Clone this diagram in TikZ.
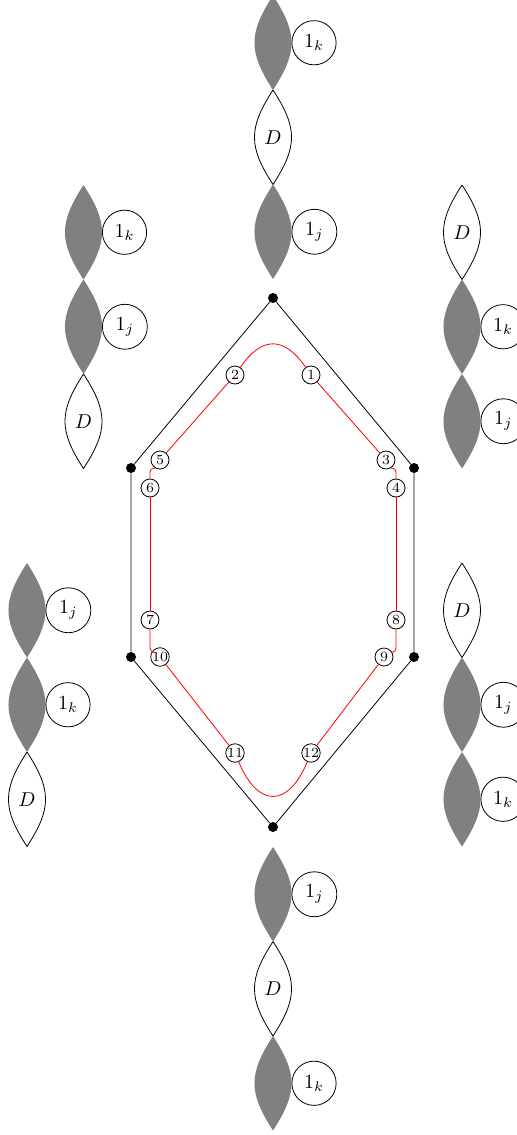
\documentclass[tikz,border=0pt]{standalone}
\usepackage{amsmath,amssymb}
\usepackage{tikz}
\usetikzlibrary{positioning}
\usepackage{xcolor}
% grey lens with its 1_x tag: x, top, subscript, name
\newcommand{\glens}[4]{%
  \fill[gray, shift={(#1,#2)}] (0,0) .. controls (24.7,38) and (24.7,56.5) .. (0,94.5)
    .. controls (-24.7,56.5) and (-24.7,38) .. (0,0);
  \node[unit] (#4) at (#1+18.5,#2+47.25) {$1_#3$};}
% open lens with D inside: x, top, name
\newcommand{\dlens}[3]{%
  \draw[shift={(#1,#2)}] (0,0) .. controls (24.7,38) and (24.7,56.5) .. (0,94.5)
    .. controls (-24.7,56.5) and (-24.7,38) .. (0,0);
  \node (#3) at (#1,#2+47.25) {$D$};}

\begin{document}
\begin{tikzpicture}[x=0.5pt, y=-0.5pt]
\tikzset{dot/.style={circle, fill, inner sep=0pt, minimum size=5pt}}
\tikzset{tag/.style={circle, draw, inner sep=0pt, minimum size=9pt, font=\scriptsize}}
\tikzset{unit/.style={circle, draw, anchor=west}}
\tikzset{loop/.style={red}}
\useasboundingbox (0,0) rectangle (517,1135);

% strands round the hexagon
\glens{273}{-4.5}{k}{tk} \dlens{273}{90}{td} \glens{273}{184.5}{j}{tj}
\glens{83.5}{185}{k}{ulk} \glens{83.5}{279.5}{j}{ulj} \dlens{83.5}{374}{uld}
\dlens{462}{185}{urd} \glens{462}{279.5}{k}{urk} \glens{462}{374}{j}{urj}
\glens{27}{563}{j}{llj} \glens{27}{657.5}{k}{llk} \dlens{27}{752}{lld}
\dlens{462}{563}{lrd} \glens{462}{657.5}{j}{lrj} \glens{462}{752}{k}{lrk}
\glens{273}{847}{j}{bj} \dlens{273}{941.5}{bd} \glens{273}{1036}{k}{bk}

% hexagon
\node[dot] (vt) at (273,298) {};
\node[dot] (vul) at (131,468) {};
\node[dot] (vur) at (414,468) {};
\node[dot] (vll) at (131,657) {};
\node[dot] (vlr) at (414,657) {};
\node[dot] (vb) at (273,827) {};
\draw (vt) -- (vur) -- (vlr) -- (vb) -- (vll) -- (vul) -- (vt);

% numbered points on the red loop
\node[tag] (r1) at (311,375) {1};
\node[tag] (r2) at (235,375) {2};
\node[tag] (r3) at (386,460) {3};
\node[tag] (r4) at (396,488) {4};
\node[tag] (r5) at (160,460) {5};
\node[tag] (r6) at (150,488) {6};
\node[tag] (r7) at (150,620) {7};
\node[tag] (r8) at (396,620) {8};
\node[tag] (r9) at (384,657) {9};
\node[tag] (r10) at (160,657) {10};
\node[tag] (r11) at (235,753) {11};
\node[tag] (r12) at (311,753) {12};

\draw[loop] (r2) .. controls (262,336) and (284,336) .. (r1);
\draw[loop] (r1) -- (r3);
\draw[loop, rounded corners=2pt] (r3.300) -| (r4);
\draw[loop] (r4) -- (r8);
\draw[loop, rounded corners=2pt] (r8) |- (r9.30);
\draw[loop] (r9) -- (r12);
\draw[loop] (r12) .. controls (288,808) and (258,808) .. (r11);
\draw[loop] (r11) -- (r10);
\draw[loop, rounded corners=2pt] (r10.150) -| (r7);
\draw[loop] (r7) -- (r6);
\draw[loop, rounded corners=2pt] (r6) |- (r5.240);
\draw[loop] (r5) -- (r2);
\end{tikzpicture}
\end{document}
